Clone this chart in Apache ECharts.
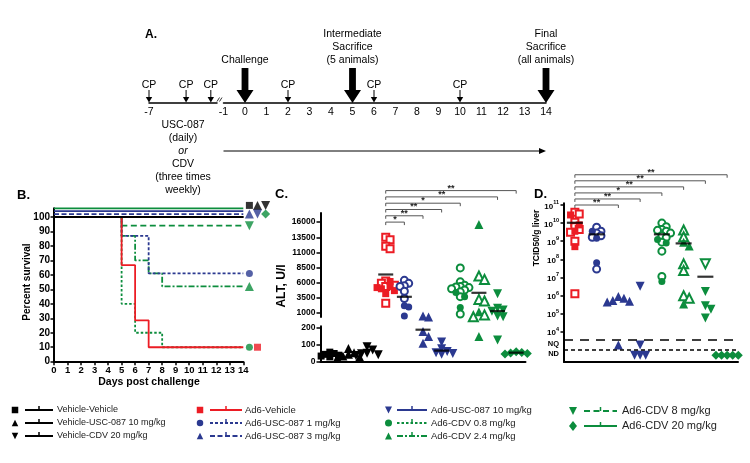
<!DOCTYPE html>
<html>
<head>
<meta charset="utf-8">
<script src="https://cdn.jsdelivr.net/npm/echarts@6.0.0/dist/echarts.min.js"></script>
<style>html,body{margin:0;padding:0;background:#fff;}#chart{width:750px;height:463px;}</style>
</head>
<body>
<div id="chart"></div>
<script>
// ======================= DATA =======================
// Panel A - study timeline (days)
const bigArrowDays = [0, 5, 14];
const bigArrowLabels = ['Challenge', 'Intermediate\nSacrifice\n(5 animals)', 'Final\nSacrifice\n(all animals)'];
const cpDaysPre = [-7, -4, -2];
const cpDaysPost = [2, 6, 10];
const treatmentSpan = [-1, 14];
const treatmentLines = ['USC-087', '(daily)', 'or', 'CDV', '(three times', 'weekly)'];

// Groups (legend order)
const groupNames = ['Vehicle-Vehicle', 'Vehicle-USC-087 10 mg/kg', 'Vehicle-CDV 20 mg/kg',
  'Ad6-Vehicle', 'Ad6-USC-087 1 mg/kg', 'Ad6-USC-087 3 mg/kg', 'Ad6-USC-087 10 mg/kg',
  'Ad6-CDV 0.8 mg/kg', 'Ad6-CDV 2.4 mg/kg', 'Ad6-CDV 8 mg/kg', 'Ad6-CDV 20 mg/kg'];

// Panel B - percent survival, [day, %]
const survVehVeh   = [[0, 100], [14, 100]];
const survVehUSC10 = [[0, 100], [14, 100]];
const survVehCDV20 = [[0, 100], [14, 100]];
const survAd6Veh   = [[0, 100], [5, 66.7], [6, 28.6], [7, 10], [14, 10]];
const survUSC1     = [[0, 100], [5, 87], [7, 61], [14, 61]];
const survUSC3     = [[0, 100], [14, 100]];
const survUSC10    = [[0, 100], [14, 100]];
const survCDV08    = [[0, 100], [5, 40], [6, 20], [8, 10], [14, 10]];
const survCDV24    = [[0, 100], [5, 87], [6, 70], [7, 61], [8, 52], [14, 52]];
const survCDV8     = [[0, 100], [5, 94], [14, 94]];
const survCDV20    = [[0, 100], [14, 100]];
const bDays = [0, 14];
const bTicks = [0, 10, 20, 30, 40, 50, 60, 70, 80, 90, 100];

// Panel C - ALT, U/l (filled = day-5 sacrifice, open = final)
const altVehVeh       = [58, 50, 45, 40, 35, 30];
const altVehUSC10     = [80, 55, 45, 35, 30, 25];
const altVehCDV20     = [90, 70, 52, 48, 42, 38];
const altAd6VehOpen   = [13500, 13100, 12000, 11600, 6300, 5900, 5600, 5400, 2600];
const altAd6VehFilled = [6200, 5400, 5200, 5000, 4700, 4200];
const altUSC1Open     = [6400, 5900, 5500, 5400, 4600, 3400];
const altUSC1Filled   = [2200, 2000, 500];
const altUSC3         = [270, 265, 180, 150, 110];
const altUSC10        = [118, 78, 62, 55, 50, 45];
const altCDV08Open    = [8450, 6150, 5600, 5400, 5300, 5200, 5000, 4800, 4500, 3700, 850];
const altCDV08Filled  = [4400, 3700, 1900];
const altCDV24Open    = [7100, 6550, 3250, 3000, 700, 400];
const altCDV24Filled  = [15600, 1200, 150];
const altCDV8         = [4200, 1800, 1500, 1300, 500, 400, 130];
const altCDV20        = [60, 56, 53, 50, 47];
const altMeans        = [null, null, null, 7360, 3680, 190, 67, null, 4340, 1330, 55];
const cUpperTicks = [1000, 3500, 6000, 8500, 11000, 13500, 16000];
const cLowerTicks = [0, 100, 200];

// Panel D - TCID50/g liver, stored as log10 values
const NQ = 3.27, ND = 2.7;
const logAd6VehOpen   = [10.6, 10.5, 10.05, 9.8, 9.65, 9.5, 9.0, 6.1];
const logAd6VehFilled = [10.45, 9.9, 9.55, 8.7];
const logUSC1Open     = [9.77, 9.55, 9.45, 9.3, 9.22, 7.46];
const logUSC1Filled   = [9.55, 9.16, 7.81];
const logUSC3         = [5.95, 5.85, 5.72, 5.68, 5.65, NQ];
const logUSC10        = [6.52, NQ, ND, ND, ND];
const logCDV08Open    = [10.0, 9.8, 9.65, 9.6, 9.55, 9.45, 9.3, 9.2, 8.95, 8.45, 7.05];
const logCDV08Filled  = [9.1, 8.9, 6.78];
const logCDV24Open    = [9.62, 9.25, 7.75, 7.38, 5.99, 5.85];
const logCDV24Filled  = [8.94, 8.74, 5.53];
const logCDV8Open     = [7.75];
const logCDV8Filled   = [6.22, 5.43, 5.25, 4.76];
const logCDV20        = [ND, ND, ND, ND, ND];
const logMeans        = [10.02, 9.38, null, null, 9.38, 8.88, 7.04, null];
const dDecades = [4, 5, 6, 7, 8, 9, 10, 11];
const nqLabelAt = 3.3, ndLabelAt = 2.8;
const nqLineAt = 3.58, ndLineAt = 2.99;

// Significance brackets [fromGroup, toGroup, label]
const sigC = [[3, 4, '*'], [3, 5, '**'], [3, 6, '**'], [3, 7, '*'], [3, 9, '**'], [3, 10, '**']];
const sigD = [[3, 5, '**'], [3, 6, '**'], [3, 7, '*'], [3, 8, '**'], [3, 9, '**'], [3, 10, '**']];

// ======================= STYLE =======================
const FONT = '"Liberation Sans", Arial, Helvetica, sans-serif';
const RED = '#ec1c24', BLUE = '#2b3990', GREEN = '#0c8d3d', BLACK = '#000';
const groupColor = [BLACK, BLACK, BLACK, RED, BLUE, BLUE, BLUE, GREEN, GREEN, GREEN, GREEN];
const groupShape = ['rect', 'triangle', 'triangle', 'rect', 'circle', 'triangle', 'triangle', 'circle', 'triangle', 'triangle', 'diamond'];
const groupDown  = [false, false, true, false, false, false, true, false, false, true, false];
const groupDash  = [null, null, null, null, [3, 2], [5, 2.5], null, [2.5, 2], [6, 2, 2, 2], [6, 3.5], null];
const survNudge  = [0, 0, 0, 0, 0, 2, 4, 0, 0, 0, 6];
const endCol     = [0, 1, 2, 1, 0, 0, 1, 0, 0, 0, 2];
const endNudge   = [8, 8, 8, 0, 0, 2, 2, 0, 0, 0, 2];
const endColX    = [14.45, 15.05, 15.65];
const survDrawOrder = [9, 8, 7, 4, 3, 0, 1, 2, 5, 6, 10];

const survData = [survVehVeh, survVehUSC10, survVehCDV20, survAd6Veh, survUSC1, survUSC3, survUSC10, survCDV08, survCDV24, survCDV8, survCDV20];
const altFilled = [altVehVeh, altVehUSC10, altVehCDV20, altAd6VehFilled, altUSC1Filled, altUSC3, altUSC10, altCDV08Filled, altCDV24Filled, altCDV8, altCDV20];
const altOpen = [[], [], [], altAd6VehOpen, altUSC1Open, [], [], altCDV08Open, altCDV24Open, [], []];
const logFilled = [logAd6VehFilled, logUSC1Filled, logUSC3, logUSC10, logCDV08Filled, logCDV24Filled, logCDV8Filled, logCDV20];
const logOpen = [logAd6VehOpen, logUSC1Open, [], [], logCDV08Open, logCDV24Open, logCDV8Open, []];
const dGroups = [3, 4, 5, 6, 7, 8, 9, 10];

const chart = echarts.init(document.getElementById('chart'), null, {renderer: 'canvas'});

function symName(g, open) {
  const s = groupShape[g];
  return open ? 'empty' + s[0].toUpperCase() + s.slice(1) : s;
}
function symSize(g, base) {
  return groupShape[g] === 'triangle' || groupShape[g] === 'diamond' ? base + 2 : base;
}
function scatterSeries(grid, g, cat, pts, open, size) {
  return {
    type: 'scatter', xAxisIndex: grid, yAxisIndex: grid, clip: false, silent: true, z: 3,
    symbol: symName(g, open), symbolSize: size, symbolRotate: groupDown[g] ? 180 : 0,
    itemStyle: {color: groupColor[g], borderColor: groupColor[g], borderWidth: open ? 1.2 : 0, opacity: 1},
    data: pts.map(p => ({value: [cat, p.v], symbolOffset: [p.off, 0]}))
  };
}
function swarmOffsets(pys, size) {
  const order = pys.map((y, i) => i).sort((a, b) => pys[a] - pys[b]);
  const placed = [], offs = new Array(pys.length).fill(0);
  const d = size * 0.62;
  order.forEach(i => {
    let off = 0;
    for (let t = 0; t < 40; t++) {
      off = t === 0 ? 0 : (t % 2 ? 1 : -1) * Math.ceil(t / 2) * d;
      if (placed.every(q => Math.hypot(q.x - off, q.y - pys[i]) >= d)) break;
    }
    placed.push({x: off, y: pys[i]});
    offs[i] = off;
  });
  return offs;
}
function cGridOf(v) { return v < 300 ? 4 : 3; }

function markerEl(g, x, y, s) {
  const c = groupColor[g], sh = groupShape[g], h = s / 2;
  if (sh === 'rect') return {type: 'rect', shape: {x: x - h, y: y - h, width: s, height: s}, style: {fill: c}};
  if (sh === 'circle') return {type: 'circle', shape: {cx: x, cy: y, r: h}, style: {fill: c}};
  if (sh === 'diamond') return {type: 'polygon', shape: {points: [[x, y - h - 1], [x + h, y], [x, y + h + 1], [x - h, y]]}, style: {fill: c}};
  const pts = groupDown[g] ? [[x - h, y - h], [x + h, y - h], [x, y + h]] : [[x, y - h], [x + h, y + h], [x - h, y + h]];
  return {type: 'polygon', shape: {points: pts}, style: {fill: c}};
}

function bracketRenderer(sig, refVal, step) {
  return function (params, api) {
    const a = api.coord([api.value(0), refVal]);
    const b = api.coord([api.value(1), refVal]);
    const y = a[1] - api.value(2) * step;
    return {type: 'group', children: [
      {type: 'polyline', shape: {points: [[a[0], y + 3], [a[0], y], [b[0], y], [b[0], y + 3]]}, style: {stroke: '#555', lineWidth: 1, fill: 'none'}},
      {type: 'text', x: (a[0] + b[0]) / 2, y: y + 2, style: {text: sig[params.dataIndex][2], font: 'bold 9px ' + FONT, fill: '#222', align: 'center', verticalAlign: 'bottom'}}
    ]};
  };
}

function buildOption(usePx) {
  const series = [];
  // ---------- Panel A ----------
  series.push({
    type: 'custom', xAxisIndex: 0, yAxisIndex: 0, clip: false, silent: true, z: 5,
    data: bigArrowDays.map(d => [d, 0]),
    renderItem: (params, api) => {
      const p = api.coord([api.value(0), 0]);
      const x = p[0], y = p[1];
      return {type: 'group', children: [
        {type: 'polygon', shape: {points: [[x - 3.4, y - 35], [x + 3.4, y - 35], [x + 3.4, y - 13], [x + 8.5, y - 13], [x, y], [x - 8.5, y - 13], [x - 3.4, y - 13]]}, style: {fill: '#000'}},
        {type: 'text', x: x, y: y - 36, style: {text: bigArrowLabels[params.dataIndex], font: '10.5px ' + FONT, fill: '#000', align: 'center', verticalAlign: 'bottom', lineHeight: 13}}
      ]};
    }
  });
  const cpRender = (params, api) => {
    const p = api.coord([api.value(0), 0]);
    const x = p[0], y = p[1];
    return {type: 'group', children: [
      {type: 'line', shape: {x1: x, y1: y - 13, x2: x, y2: y - 4}, style: {stroke: '#000', lineWidth: 1}},
      {type: 'polygon', shape: {points: [[x - 3.2, y - 6], [x + 3.2, y - 6], [x, y - 0.5]]}, style: {fill: '#000'}},
      {type: 'text', x: x, y: y - 18, style: {text: 'CP', font: '10.5px ' + FONT, fill: '#000', align: 'center', verticalAlign: 'middle'}}
    ]};
  };
  series.push({type: 'custom', xAxisIndex: 0, yAxisIndex: 0, clip: false, silent: true, z: 5, data: cpDaysPost.map(d => [d, 0]), renderItem: cpRender});
  series.push({type: 'custom', xAxisIndex: 1, yAxisIndex: 1, clip: false, silent: true, z: 5, data: cpDaysPre.map(d => [d, 0]), renderItem: cpRender});
  series.push({
    type: 'custom', xAxisIndex: 0, yAxisIndex: 0, clip: false, silent: true, z: 5,
    encode: {x: [0, 1]},
    data: [[treatmentSpan[0], treatmentSpan[1]]],
    renderItem: (params, api) => {
      const a = api.coord([api.value(0), 0]), b = api.coord([api.value(1), 0]);
      const y = a[1] + 48;
      return {type: 'group', children: [
        {type: 'line', shape: {x1: a[0], y1: y, x2: b[0] - 5, y2: y}, style: {stroke: '#000', lineWidth: 1}},
        {type: 'polygon', shape: {points: [[b[0], y], [b[0] - 7, y - 3], [b[0] - 7, y + 3]]}, style: {fill: '#000'}}
      ]};
    }
  });

  // ---------- Panel B ----------
  survDrawOrder.forEach((g, k) => {
    series.push({
      type: 'line', xAxisIndex: 2, yAxisIndex: 2, step: 'end', symbol: 'none', clip: false, silent: true, z: 2 + k * 0.01,
      lineStyle: {color: groupColor[g], width: 1.8, type: groupDash[g] || 'solid'},
      data: survData[g].map(p => [p[0], p[1] + survNudge[g]])
    });
  });
  for (let g = 0; g < 11; g++) {
    const last = survData[g][survData[g].length - 1];
    series.push({
      type: 'scatter', xAxisIndex: 2, yAxisIndex: 2, clip: false, silent: true, z: 4,
      symbol: groupShape[g], symbolSize: symSize(g, 7), symbolRotate: groupDown[g] ? 180 : 0,
      itemStyle: {color: groupColor[g]},
      data: [[endColX[endCol[g]], last[1] + endNudge[g]]]
    });
  }

  // ---------- Panel C ----------
  for (let g = 0; g < 11; g++) {
    const size = symSize(g, 7);
    const pts = altOpen[g].map(v => ({v, open: true})).concat(altFilled[g].map(v => ({v, open: false})));
    const pys = pts.map(p => usePx ? chart.convertToPixel({gridIndex: cGridOf(p.v)}, [g, p.v])[1] : 0);
    const offs = usePx ? swarmOffsets(pys, size) : pts.map(() => 0);
    pts.forEach((p, i) => { p.off = offs[i]; });
    [3, 4].forEach(grid => {
      [true, false].forEach(open => {
        const sel = pts.filter(p => cGridOf(p.v) === grid && p.open === open);
        if (sel.length) series.push(scatterSeries(grid, g, g, sel, open, size));
      });
    });
  }
  [3, 4].forEach(grid => {
    const d = [];
    altMeans.forEach((m, g) => { if (m !== null && cGridOf(m) === grid) d.push([g, m]); });
    series.push({type: 'scatter', xAxisIndex: grid, yAxisIndex: grid, clip: false, silent: true, z: 6,
      symbol: 'rect', symbolSize: [15, 2.2], itemStyle: {color: '#000'}, data: d});
  });
  series.push({type: 'custom', xAxisIndex: 3, yAxisIndex: 3, clip: false, silent: true, z: 5,
    data: sigC.map((s, k) => [s[0], s[1], k]), renderItem: bracketRenderer(sigC, 16000, 6.3)});

  // ---------- Panel D ----------
  dGroups.forEach((g, cat) => {
    const size = symSize(g, 7);
    const pts = logOpen[cat].map(v => ({v, open: true})).concat(logFilled[cat].map(v => ({v, open: false})));
    const pys = pts.map(p => usePx ? chart.convertToPixel({gridIndex: 5}, [cat, p.v])[1] : 0);
    const offs = usePx ? swarmOffsets(pys, size) : pts.map(() => 0);
    pts.forEach((p, i) => { p.off = offs[i]; });
    [true, false].forEach(open => {
      const sel = pts.filter(p => p.open === open);
      if (sel.length) series.push(scatterSeries(5, g, cat, sel, open, size));
    });
  });
  series.push({type: 'scatter', xAxisIndex: 5, yAxisIndex: 5, clip: false, silent: true, z: 6,
    symbol: 'rect', symbolSize: [16, 2.2], itemStyle: {color: '#000'},
    data: logMeans.map((m, c) => m === null ? null : [c, m]).filter(x => x),
    markLine: {silent: true, symbol: 'none', label: {show: false}, animation: false,
      data: [
        {yAxis: nqLineAt, lineStyle: {type: [9, 7], width: 1.5, color: '#000'}},
        {yAxis: ndLineAt, lineStyle: {type: [4, 3], width: 1.5, color: '#000'}}
      ]}
  });
  series.push({type: 'custom', xAxisIndex: 5, yAxisIndex: 5, clip: false, silent: true, z: 5,
    data: sigD.map((s, k) => [s[0] - 3, s[1] - 3, k]), renderItem: bracketRenderer(sigD, 11, 6.05)});

  // ---------- axes ----------
  const boldLbl = (fs) => ({color: '#000', fontWeight: 'bold', fontSize: fs, fontFamily: FONT});
  const axLine = {show: true, lineStyle: {color: '#000', width: 2}};
  const tickOut = {show: true, length: 3.5, lineStyle: {color: '#000', width: 1.5}};
  const hiddenY = (min, max) => ({type: 'value', min, max, show: false, splitLine: {show: false}});

  const xAxis = [
    {gridIndex: 0, type: 'value', min: -1, max: 14, interval: 1, axisLine: {show: true, onZero: false, lineStyle: {color: '#000', width: 1.5}},
      axisTick: {show: false}, splitLine: {show: false}, axisLabel: {color: '#000', fontSize: 10.5, fontFamily: FONT, margin: 4}},
    {gridIndex: 1, type: 'value', min: -7, max: -1.5, interval: 1, axisLine: {show: true, onZero: false, lineStyle: {color: '#000', width: 1.5}},
      axisTick: {show: false}, splitLine: {show: false}, axisLabel: {color: '#000', fontSize: 10.5, fontFamily: FONT, margin: 4, formatter: v => v === -7 ? '-7' : ''}},
    {gridIndex: 2, type: 'value', min: bDays[0], max: bDays[1], interval: 1, axisLine: axLine, axisTick: tickOut, splitLine: {show: false},
      axisLabel: Object.assign(boldLbl(9.5), {margin: 4})},
    {gridIndex: 3, type: 'category', data: groupNames, show: false},
    {gridIndex: 4, type: 'category', data: groupNames, axisLine: axLine, axisTick: {show: false}, axisLabel: {show: false}},
    {gridIndex: 5, type: 'category', data: dGroups.map(g => groupNames[g]), axisLine: axLine, axisTick: {show: false}, axisLabel: {show: false}}
  ];
  const plain = v => String(v);
  const yAxis = [
    hiddenY(0, 1), hiddenY(0, 1),
    {gridIndex: 2, type: 'value', min: 0, max: 106, interval: 10, axisLine: axLine, splitLine: {show: false},
      axisTick: Object.assign({}, tickOut, {customValues: bTicks}),
      axisLabel: Object.assign(boldLbl(10), {margin: 4, customValues: bTicks, formatter: v => (v <= 100 ? String(v) : '')})},
    {gridIndex: 3, type: 'value', min: 350, max: 17500, axisLine: axLine, splitLine: {show: false},
      axisTick: Object.assign({}, tickOut, {length: 4, customValues: cUpperTicks}),
      axisLabel: Object.assign(boldLbl(8.5), {margin: 5, customValues: cUpperTicks, formatter: plain})},
    {gridIndex: 4, type: 'value', min: 0, max: 210, axisLine: axLine, splitLine: {show: false},
      axisTick: Object.assign({}, tickOut, {length: 4, customValues: cLowerTicks}),
      axisLabel: Object.assign(boldLbl(8.5), {margin: 5, customValues: cLowerTicks, formatter: plain})},
    {gridIndex: 5, type: 'value', min: 2.33, max: 11.1, axisLine: axLine, splitLine: {show: false},
      axisTick: Object.assign({}, tickOut, {customValues: dDecades}),
      axisLabel: {margin: 5, customValues: [ndLabelAt, nqLabelAt].concat(dDecades),
        formatter: v => {
          if (Math.abs(v - ndLabelAt) < 1e-6) return '{t|ND}';
          if (Math.abs(v - nqLabelAt) < 1e-6) return '{t|NQ}';
          return '{b|10}{s|' + Math.round(v) + '}';
        },
        rich: {
          b: {fontSize: 8, fontWeight: 'bold', fontFamily: FONT, color: '#000', lineHeight: 11, verticalAlign: 'bottom'},
          s: {fontSize: 5.5, fontWeight: 'bold', fontFamily: FONT, color: '#000', lineHeight: 6, verticalAlign: 'top'},
          t: {fontSize: 7.5, fontWeight: 'bold', fontFamily: FONT, color: '#000'}
        }}}
  ];
  yAxis.forEach((a, i) => { a.gridIndex = i; });

  const grid = [
    {left: 223.5, top: 20, width: 322.5, height: 83},
    {left: 149, top: 20, width: 68, height: 83},
    {left: 54, top: 208.3, width: 189.3, height: 153.4},
    {left: 320.5, top: 213, width: 205, height: 104},
    {left: 320.5, top: 326.3, width: 205, height: 35.7},
    {left: 564, top: 203.2, width: 174, height: 158.8}
  ];

  // ---------- graphic (titles, legend, annotations) ----------
  const el = [];
  const txt = (text, x, y, font, opts) => el.push(Object.assign({type: 'text', x, y, silent: true,
    style: Object.assign({text, font: font + ' ' + FONT, fill: '#000', align: 'left', verticalAlign: 'middle'}, (opts && opts.style) || {})},
    opts && opts.rotation !== undefined ? {rotation: opts.rotation} : {}));
  txt('A.', 145, 35, 'bold 12px');
  txt('B.', 17, 195, 'bold 13px');
  txt('C.', 275, 194, 'bold 13px');
  txt('D.', 534, 194, 'bold 13px');
  treatmentLines.forEach((t, i) => txt(t, 183, 125 + i * 13, (t === 'or' ? 'italic ' : '') + '10.5px', {style: {align: 'center'}}));
  txt('Percent survival', 27, 282, 'bold 10px', {rotation: Math.PI / 2, style: {align: 'center'}});
  txt('Days post challenge', 149, 382, 'bold 10.5px', {style: {align: 'center'}});
  txt('ALT, U/l', 282, 286, 'bold 12px', {rotation: Math.PI / 2, style: {align: 'center'}});
  txt('TCID50/g liver', 537, 238, 'bold 8.5px', {rotation: Math.PI / 2, style: {align: 'center'}});
  // axis break marks
  el.push({type: 'line', silent: true, shape: {x1: 217, y1: 101.5, x2: 219.5, y2: 97.5}, style: {stroke: '#000', lineWidth: 0.8}});
  el.push({type: 'line', silent: true, shape: {x1: 219.5, y1: 101.5, x2: 222, y2: 97.5}, style: {stroke: '#000', lineWidth: 0.8}});
  // legend
  const legendCols = [[0, 1, 2], [3, 4, 5], [6, 7, 8], [9, 10]];
  const legendColX = [
    {m: 15, l1: 25, l2: 53, t: 57, fs: 9, ms: 6.5},
    {m: 200, l1: 210, l2: 242, t: 245, fs: 9.5, ms: 6.5},
    {m: 388.5, l1: 397, l2: 427, t: 431, fs: 9.5, ms: 7},
    {m: 573, l1: 584, l2: 617, t: 622, fs: 11, ms: 8}
  ];
  const legendRowY = [[410, 423, 436], [410, 423, 436], [410, 423, 436], [411, 426]];
  legendCols.forEach((col, ci) => {
    const L = legendColX[ci];
    col.forEach((g, ri) => {
      const y = legendRowY[ci][ri];
      const m = markerEl(g, L.m, y, L.ms); m.silent = true; el.push(m);
      el.push({type: 'line', silent: true, shape: {x1: L.l1, y1: y, x2: L.l2, y2: y}, style: {stroke: groupColor[g], lineWidth: 2, lineDash: groupDash[g] || null}});
      const mid = (L.l1 + L.l2) / 2;
      el.push({type: 'line', silent: true, shape: {x1: mid, y1: y, x2: mid, y2: y - 4}, style: {stroke: groupColor[g], lineWidth: 1.5}});
      txt(groupNames[g], L.t, y, L.fs + 'px', {style: {fill: '#222'}});
    });
  });

  return {
    animation: false, backgroundColor: '#fff', textStyle: {fontFamily: FONT},
    grid, xAxis, yAxis, series, graphic: {elements: el}
  };
}

chart.setOption(buildOption(false));
chart.setOption(buildOption(true), true);
</script>
</body>
</html>
